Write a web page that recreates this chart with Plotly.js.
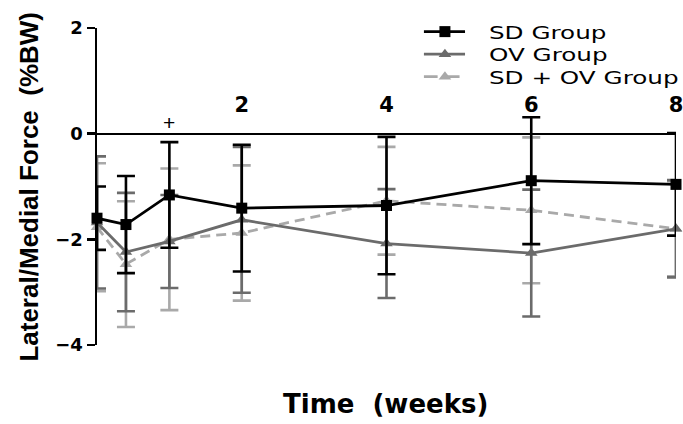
<!DOCTYPE html>
<html>
<head>
<meta charset="utf-8">
<script src="https://cdn.plot.ly/plotly-3.0.1.min.js"></script>
<style>
  html, body { margin: 0; padding: 0; background: #fff; }
  #chart { width: 683px; height: 424px; }
</style>
</head>
<body>
<div id="chart"></div>
<script>
// Time points (weeks)
const timeWeeks = [0, 0.4, 1, 2, 4, 6, 8];
const xTickVals = [2, 4, 6, 8];
const xTickText = ['2', '4', '6', '8'];
const yTickVals = [-4, -2, 0, 2];

// Series: mean lateral/medial force (%BW) and error (SD)
const sdName = 'SD Group';
const sdMean = [-1.60, -1.72, -1.16, -1.41, -1.36, -0.89, -0.96];
const sdErr  = [0.60, 0.92, 1.00, 1.20, 1.30, 1.20, 0.97];

const ovName = 'OV Group';
const ovMean = [-1.68, -2.24, -2.04, -1.63, -2.08, -2.26, -1.80];
const ovErr  = [1.25, 1.12, 0.88, 1.38, 1.03, 1.20, 0.92];

const sdovName = 'SD + OV Group';
const sdovMean = [-1.77, -2.47, -2.00, -1.88, -1.27, -1.45, -1.80];
const sdovErr  = [1.21, 1.19, 1.34, 1.28, 1.02, 1.38, 0.90];

// significance mark
const sigX = [1];
const sigY = [0.22];
const sigText = ['+'];

const cBlack = '#000000';
const cDark = '#6b6b6b';
const cLight = '#a9a9a9';

function trace(name, y, err, color, symbol, dash, legendId) {
  return {
    type: 'scatter', mode: 'lines+markers', name: name,
    x: timeWeeks, y: y,
    line: { color: color, width: 2.8, dash: dash },
    marker: { color: color, symbol: symbol, size: 11 },
    error_y: { type: 'data', array: err, visible: true, color: color, thickness: 2.6, width: 9 },
    cliponaxis: false,
    legend: legendId
  };
}

const data = [
  trace(sdovName, sdovMean, sdovErr, cLight, 'triangle-up', '10px,6px', 'legend3'),
  trace(ovName, ovMean, ovErr, cDark, 'triangle-up', 'solid', 'legend2'),
  trace(sdName, sdMean, sdErr, cBlack, 'square', 'solid', 'legend')
];

function legendBox(yTop) {
  return {
    x: 0.556, y: yTop, xanchor: 'left', yanchor: 'top',
    bgcolor: 'rgba(0,0,0,0)',
    font: { family: 'DejaVu Sans', size: 18, color: '#000' }
  };
}

const layout = {
  width: 683, height: 424,
  margin: { l: 97, r: 7, t: 28, b: 79 },
  paper_bgcolor: '#ffffff', plot_bgcolor: '#ffffff',
  showlegend: true,
  legend: legendBox(1.046),
  legend2: legendBox(0.975),
  legend3: legendBox(0.904),
  xaxis: {
    range: [0, 8],
    anchor: 'free', position: 4 / 6, side: 'top',
    showline: true, linecolor: '#000', linewidth: 2.5,
    showgrid: false, zeroline: false,
    tickvals: xTickVals, ticktext: xTickText,
    ticks: '', ticklabelstandoff: 12, ticklabeloverflow: 'allow',
    tickfont: { family: 'DejaVu Sans', size: 21, color: '#000', weight: 'bold' }
  },
  yaxis: {
    range: [-4, 2],
    showline: true, linecolor: '#000', linewidth: 2.5,
    showgrid: false, zeroline: false,
    tickvals: yTickVals,
    ticks: 'outside', ticklen: 8, tickwidth: 2.5, tickcolor: '#000',
    tickfont: { family: 'DejaVu Sans', size: 18, color: '#000', weight: 'bold' }
  },
  annotations: [
    {
      xref: 'paper', yref: 'paper', x: -0.119, y: 0.5,
      xanchor: 'center', yanchor: 'middle', textangle: -90, showarrow: false,
      text: 'Lateral/Medial Force&nbsp; (%BW)',
      font: { family: 'Liberation Sans', size: 26, color: '#000', weight: 'bold' }
    },
    {
      xref: 'paper', yref: 'paper', x: (385 - 97) / 579, y: -0.185,
      xanchor: 'center', yanchor: 'middle', showarrow: false,
      text: 'Time&nbsp; (weeks)',
      font: { family: 'DejaVu Sans', size: 26, color: '#000', weight: 'bold' }
    },
    {
      xref: 'x', yref: 'y', x: sigX[0], y: sigY[0],
      showarrow: false, text: sigText[0],
      font: { family: 'Liberation Sans', size: 21, color: '#000' }
    }
  ]
};

// widen legend entries (wide lettering, longer symbol lines) like the original
function widenLegend(gd) {
  const stretch = 1.37, textShift = 30, pointX = 26;
  const names = [sdName, ovName, sdovName];
  gd.querySelectorAll('text').forEach(function (t) {
    if (names.indexOf((t.textContent || '').trim()) < 0) return;
    if (t.getAttribute('data-wide') === '1') return;
    const item = t.parentNode;
    let p = item;
    while (p && p !== gd) {
      if (p.removeAttribute) p.removeAttribute('clip-path');
      p = p.parentNode;
    }
    const x0 = parseFloat(t.getAttribute('x')) || 40;
    t.setAttribute('transform', 'translate(' + (x0 + textShift) + ',0) scale(' + stretch + ',1) translate(' + (-x0) + ',0)');
    t.setAttribute('data-wide', '1');
    item.querySelectorAll('[class*="lines"] path').forEach(function (path) {
      path.setAttribute('transform', 'translate(5,0) scale(' + stretch + ',1) translate(-5,0)');
    });
    item.querySelectorAll('[class*="points"] path').forEach(function (path) {
      path.setAttribute('transform', 'translate(' + pointX + ',0)');
    });
  });
}

Plotly.newPlot('chart', data, layout, { displayModeBar: false, staticPlot: true })
  .then(function (gd) {
    widenLegend(gd);
    setTimeout(function () { widenLegend(gd); }, 30);
    setTimeout(function () { widenLegend(gd); }, 200);
  });
</script>
</body>
</html>
